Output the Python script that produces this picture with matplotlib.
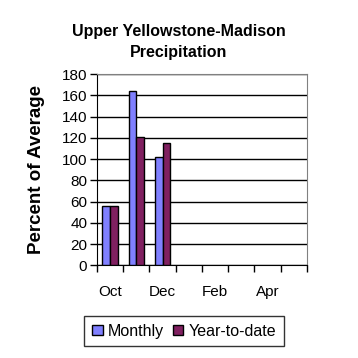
import numpy as np
import matplotlib
matplotlib.use('Agg')
import matplotlib.pyplot as plt

plt.rcParams['font.family'] = ['Liberation Sans', 'DejaVu Sans']

### chart data
months = ['Oct', 'Nov', 'Dec', 'Jan', 'Feb', 'Mar', 'Apr', 'May']
monthly = [56, 164, 102]
year_to_date = [56, 121, 115]
yticks = list(range(0, 181, 20))

fig = plt.figure(figsize=(3.58, 3.58), dpi=100)
ax = fig.add_axes([0.271, 0.259, 0.586, 0.534])

x = np.arange(len(months))
w = 0.295
ax.bar(x[:len(monthly)] - w / 2, monthly, w, color='#8080FF',
       edgecolor='black', linewidth=1, label='Monthly', zorder=3)
ax.bar(x[:len(year_to_date)] + w / 2, year_to_date, w, color='#802060',
       edgecolor='black', linewidth=1, label='Year-to-date', zorder=3)

ax.set_xlim(-0.5, len(months) - 0.5)
ax.set_ylim(0, 180)
ax.set_yticks(yticks)
ax.set_yticklabels([str(v) for v in yticks], fontsize=11)
ax.yaxis.grid(True, color='black', linewidth=1)
ax.set_axisbelow(True)

# category boundaries get the tick marks, labels every other month
ax.set_xticks(np.arange(len(months) + 1) - 0.5)
ax.set_xticklabels([])
ax.set_xticks(x[::2], minor=True)
ax.set_xticklabels(months[::2], minor=True, fontsize=11)
ax.tick_params(axis='x', which='minor', length=0, pad=14)
ax.tick_params(axis='x', which='major', length=5, width=1, direction='out')
ax.tick_params(axis='y', length=5, width=1, direction='out', pad=2)

for side in ['top', 'right']:
    ax.spines[side].set_color('#808080')
for side in ['left', 'bottom']:
    ax.spines[side].set_color('black')

ax.set_ylabel('Percent of Average', fontsize=13.5, fontweight='bold')
ax.yaxis.set_label_coords(-0.25, 0.5)
fig.text(0.5, 0.884, 'Upper Yellowstone-Madison\nPrecipitation', ha='center',
         va='center', fontsize=11.5, fontweight='bold', linespacing=1.5)

leg = fig.legend(loc='center', bbox_to_anchor=(0.514, 0.0754), ncol=2,
                 fontsize=11.5, frameon=True, fancybox=False, edgecolor='black',
                 handlelength=0.65, handleheight=0.65, handletextpad=0.3,
                 columnspacing=0.6, borderpad=0.5)
leg.get_frame().set_linewidth(1)

fig.savefig('out.png', dpi=100)
